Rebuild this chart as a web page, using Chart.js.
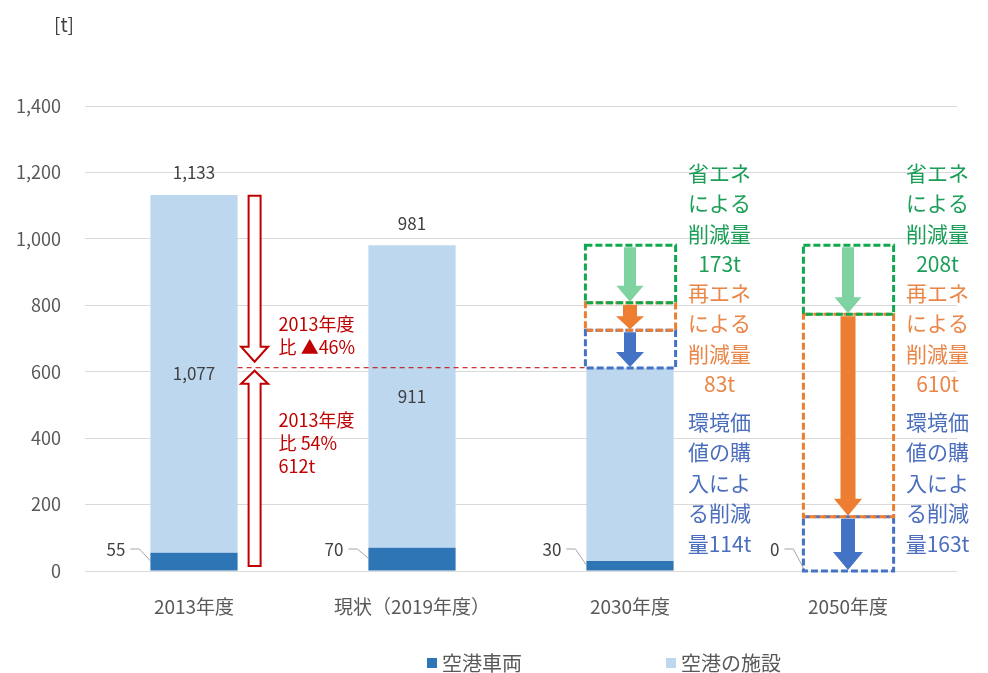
<!DOCTYPE html>
<html lang="ja">
<head>
<meta charset="utf-8">
<script src="https://cdn.jsdelivr.net/npm/chart.js@4"></script>
<style>
html, body { margin: 0; padding: 0; background: #fff; }
</style>
</head>
<body>
<canvas id="myChart" width="988" height="673"></canvas>
<script>
// data
const categories = ['2013年度', '現状（2019年度）', '2030年度', '2050年度'];
const vehicles = [55, 70, 30, 0];          // 空港車両
const facilities = [1077, 911, 582, 0];    // 空港の施設
const totalLabels = [1133, 981, null, null];
const facilityLabels = [1077, 911, null, null];
const baseTotal = 981;                     // 現状 total, start of the cuts
const target2030 = 612;                    // 2013年度比 54%
const cuts2030 = [173, 83, 114];           // 省エネ, 再エネ, 環境価値
const cuts2050 = [208, 610, 163];

const FONT = '"Noto Sans CJK JP", "Noto Sans", sans-serif';
const DARK = '#2E75B6';
const LIGHT = '#BDD7EE';
const RED = '#C00000';
const cutColors = {
    box: ['#10A84E', '#ED7D31', '#4472C4'],
    arrow: ['#7FD3A1', '#ED7D31', '#4472C4'],
    text: ['#1B9E58', '#EA8648', '#4A6DBD']
};
const cutTexts2030 = [['省エネ', 'による', '削減量', '173t'], ['再エネ', 'による', '削減量', '83t'], ['環境価', '値の購', '入によ', 'る削減', '量114t']];
const cutTexts2050 = [['省エネ', 'による', '削減量', '208t'], ['再エネ', 'による', '削減量', '610t'], ['環境価', '値の購', '入によ', 'る削減', '量163t']];

function arrowPath(ctx, cx, tail, tip, shaft, head, headH) {
    const d = tip > tail ? 1 : -1;
    const hb = tip - d * headH;
    ctx.beginPath();
    ctx.moveTo(cx - shaft / 2, tail);
    ctx.lineTo(cx + shaft / 2, tail);
    ctx.lineTo(cx + shaft / 2, hb);
    ctx.lineTo(cx + head / 2, hb);
    ctx.lineTo(cx, tip);
    ctx.lineTo(cx - head / 2, hb);
    ctx.lineTo(cx - shaft / 2, hb);
    ctx.closePath();
}

function drawCuts(ctx, chart, idx, cuts, texts, sizes) {
    const y = chart.scales.y;
    const bar = chart.getDatasetMeta(0).data[idx];
    const left = bar.x - bar.width / 2 - 1, right = bar.x + bar.width / 2 + 2;
    const tops = [];
    let v = baseTotal;
    for (let k = 0; k < cuts.length; k++) {
        tops.push([y.getPixelForValue(v), y.getPixelForValue(v - cuts[k])]);
        v -= cuts[k];
    }
    ctx.save();
    ctx.lineWidth = 3;
    ctx.setLineDash([7, 3]);
    for (let k = cuts.length - 1; k >= 0; k--) {
        ctx.strokeStyle = cutColors.box[k];
        ctx.strokeRect(left, tops[k][0], right - left, tops[k][1] - tops[k][0]);
    }
    ctx.setLineDash([]);
    for (let k = 0; k < cuts.length; k++) {
        const s = sizes[k];
        arrowPath(ctx, bar.x, tops[k][0] + 2, tops[k][1] - 1, s[0], s[1], s[2]);
        ctx.fillStyle = cutColors.arrow[k];
        ctx.fill();
    }
    // side texts
    ctx.font = '21px ' + FONT;
    ctx.textAlign = 'center';
    ctx.textBaseline = 'middle';
    const tx = right + 44;
    const starts = [173, 293, 422];
    for (let k = 0; k < texts.length; k++) {
        ctx.fillStyle = cutColors.text[k];
        texts[k].forEach((t, i) => ctx.fillText(t, tx, starts[k] + i * 30.5));
    }
    ctx.restore();
}

const overlay = {
    id: 'overlay',
    afterDatasetsDraw(chart) {
        const ctx = chart.ctx;
        const y = chart.scales.y;
        const bars = chart.getDatasetMeta(0).data;
        ctx.save();

        // value labels
        ctx.font = '17px ' + FONT;
        ctx.fillStyle = '#404040';
        ctx.textAlign = 'center';
        ctx.textBaseline = 'middle';
        for (let i = 0; i < categories.length; i++) {
            const b = bars[i];
            if (totalLabels[i] != null) {
                ctx.fillText(totalLabels[i].toLocaleString('en-US'), b.x, y.getPixelForValue(vehicles[i] + facilities[i]) - 22);
            }
            if (facilityLabels[i] != null) {
                const ym = (y.getPixelForValue(vehicles[i]) + y.getPixelForValue(vehicles[i] + facilities[i])) / 2;
                ctx.fillText(facilityLabels[i].toLocaleString('en-US'), b.x, ym);
            }
            // vehicle labels with leader line
            const bl = b.x - b.width / 2;
            const ly = y.getPixelForValue(0) - 21;
            ctx.textAlign = 'right';
            ctx.fillText(String(vehicles[i]), bl - 25, ly);
            ctx.textAlign = 'center';
            ctx.strokeStyle = '#A6A6A6';
            ctx.lineWidth = 1;
            ctx.beginPath();
            ctx.moveTo(bl - 20, ly - 1);
            ctx.lineTo(bl - 11, ly - 1);
            ctx.lineTo(bl, (y.getPixelForValue(0) + y.getPixelForValue(vehicles[i])) / 2 - 1);
            ctx.stroke();
        }

        // red hollow arrows 2013 -> target
        const b0 = bars[0];
        const ax = b0.x + b0.width / 2 + 17;
        const yT = y.getPixelForValue(target2030);
        ctx.strokeStyle = RED;
        ctx.fillStyle = '#fff';
        ctx.lineWidth = 2;
        arrowPath(ctx, ax, y.getPixelForValue(totalLabels[0]) + 1, yT - 6, 12, 27, 15);
        ctx.fill(); ctx.stroke();
        arrowPath(ctx, ax, y.getPixelForValue(0) - 5, yT + 3, 12, 27, 13);
        ctx.fill(); ctx.stroke();

        // red dashed target line
        const b2 = bars[2];
        ctx.lineWidth = 1;
        ctx.setLineDash([5, 4]);
        ctx.beginPath();
        ctx.moveTo(b0.x + b0.width / 2, yT);
        ctx.lineTo(b2.x - b2.width / 2, yT);
        ctx.stroke();
        ctx.setLineDash([]);

        ctx.font = '18px ' + FONT;
        ctx.fillStyle = RED;
        ctx.textAlign = 'left';
        ctx.fillText('2013年度', ax + 24, 324);
        ctx.fillText('比 ▲46%', ax + 24, 347);
        ctx.fillText('2013年度', ax + 24, 420);
        ctx.fillText('比 54%', ax + 24, 443);
        ctx.fillText('612t', ax + 24, 466);

        // reduction boxes
        drawCuts(ctx, chart, 2, cuts2030, cutTexts2030, [[12, 27, 16], [14, 28, 13], [12, 28, 15]]);
        drawCuts(ctx, chart, 3, cuts2050, cutTexts2050, [[12, 27, 16], [15, 28, 17], [14, 30, 18]]);

        // unit
        ctx.font = '19px ' + FONT;
        ctx.fillStyle = '#404040';
        ctx.textAlign = 'left';
        ctx.fillText('[t]', 54, 25);

        // legend
        ctx.font = '20px ' + FONT;
        ctx.fillStyle = DARK;
        ctx.fillRect(427, 658, 10, 10);
        ctx.fillStyle = LIGHT;
        ctx.fillRect(666, 658, 10, 10);
        ctx.fillStyle = '#595959';
        ctx.fillText('空港車両', 442, 663);
        ctx.fillText('空港の施設', 681, 663);
        ctx.restore();
    }
};

new Chart(document.getElementById('myChart'), {
    type: 'bar',
    data: {
        labels: categories,
        datasets: [
            { label: '空港車両', data: vehicles, backgroundColor: DARK },
            { label: '空港の施設', data: facilities, backgroundColor: LIGHT }
        ]
    },
    options: {
        responsive: false,
        animation: false,
        layout: { padding: { top: 106, right: 31, left: 0, bottom: 0 } },
        plugins: { legend: { display: false }, tooltip: { enabled: false } },
        datasets: { bar: { categoryPercentage: 1, barPercentage: 0.4 } },
        scales: {
            x: {
                stacked: true,
                grid: { display: false },
                border: { display: false },
                ticks: { color: '#595959', font: { family: FONT, size: 19 }, padding: 16, maxRotation: 0 },
                afterFit(s) { s.height = 102; }
            },
            y: {
                stacked: true,
                min: 0,
                max: 1400,
                ticks: {
                    stepSize: 200,
                    color: '#595959',
                    padding: 24,
                    font: { family: FONT, size: 18 },
                    callback: (v) => v.toLocaleString('en-US')
                },
                grid: { color: '#D9D9D9', drawTicks: false },
                border: { display: false },
                afterFit(s) { s.width = 85; }
            }
        }
    },
    plugins: [overlay]
});
</script>
</body>
</html>
